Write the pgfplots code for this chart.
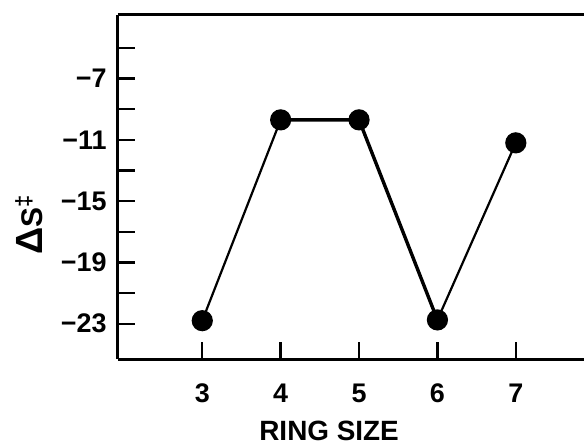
\documentclass[border=0pt]{standalone}
\usepackage{fontspec}
\setmainfont{Liberation Sans}
\usepackage{pgfplots}
\pgfplotsset{compat=1.18}
\begin{document}
\begin{tikzpicture}
\begin{axis}[
  scale only axis,
  width=233bp, height=172bp,
  xmin=1.925, xmax=7.87,
  ymin=-25.30, ymax=-2.86,
  axis x line*=box,
  axis y line*=left,
  xtick pos=bottom,
  axis line style={line width=1.5bp, black},
  tick align=inside,
  major tick length=8.5bp,
  minor tick length=8.5bp,
  every tick/.style={line width=1.2bp, black},
  xtick={3,4,5,6,7},
  xticklabels={3,4,5,6,7},
  ytick={-23,-19,-15,-11,-7},
  yticklabels={−23,−19,−15,−11,−7},
  minor ytick={-21,-17,-13,-9,-5},
  xticklabel style={font=\fontsize{13.5}{15}\selectfont\bfseries, anchor=base, inner sep=0pt, yshift=-21.5bp},
  yticklabel style={font=\fontsize{13.5}{15}\selectfont\bfseries, anchor=east, inner sep=0pt, xshift=-5.5bp},
  xlabel={RING SIZE},
  xlabel style={font=\fontsize{14}{16}\selectfont\bfseries, at={(rel axis cs:0.453,-0.2355)}, anchor=base},
  ylabel={{\fontsize{19}{20}\selectfont Δ}S\raisebox{0.75ex}{\fontsize{11}{12}\selectfont ‡}},
  ylabel style={font=\fontsize{15}{17}\selectfont\bfseries, at={(rel axis cs:-0.161,0.39)}, anchor=base},
  clip=false,
]
\addplot[black, line width=1.1bp, mark=*, mark size=4.75bp, mark options={solid, fill=black}]
  coordinates {(3,-22.8) (4,-9.7) (5,-9.7) (6,-22.75) (7,-11.2)};
\addplot[black, line width=1.7bp, forget plot]
  coordinates {(4,-9.7) (5,-9.7) (6,-22.75)};
\coordinate (sw) at (rel axis cs:0,0);
\end{axis}
\pgfresetboundingbox
\path[use as bounding box] ([shift={(-59bp,-42.5bp)}]sw) rectangle ++(292bp,222bp);
\end{tikzpicture}
\end{document}
